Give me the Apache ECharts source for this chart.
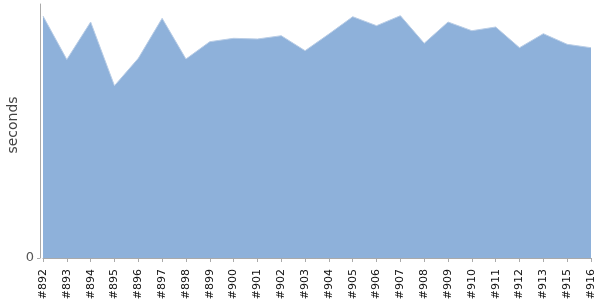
<!DOCTYPE html>
<html>
<head>
<meta charset="utf-8">
<script src="https://cdn.jsdelivr.net/npm/echarts@6/dist/echarts.min.js"></script>
<style>html,body{margin:0;padding:0;background:#fff}#c{width:600px;height:300px}</style>
</head>
<body>
<div id="c"></div>
<script>
const categories = ['#892','#893','#894','#895','#896','#897','#898','#899','#900','#901','#902','#903','#904','#905','#906','#907','#908','#909','#910','#911','#912','#913','#915','#916'];
const seconds = [242, 198.5, 236, 172.3, 199.7, 239.7, 199, 216.3, 219.7, 219, 222.3, 207.3, 224, 241.3, 232.3, 242.3, 214.7, 236, 227.3, 231, 210.3, 224.3, 213.7, 210.3];
const yTickLabels = [0];

const chart = echarts.init(document.getElementById('c'), null, {renderer: 'canvas'});
chart.setOption({
  animation: false,
  textStyle: {fontFamily: 'DejaVu Sans'},
  grid: {left: 43, right: 9, top: 4, bottom: 42, containLabel: false, outerBoundsMode: 'none'},
  xAxis: {
    type: 'category',
    data: categories,
    boundaryGap: false,
    offset: 2,
    axisLine: {lineStyle: {color: '#aaaaaa', width: 1}},
    axisTick: {show: true, length: 4, alignWithLabel: true, lineStyle: {color: '#aaaaaa'}},
    axisLabel: {rotate: 90, fontSize: 11, color: '#111', margin: 9, interval: 0, fontFamily: 'DejaVu Sans'},
    splitLine: {show: false}
  },
  yAxis: {
    type: 'value',
    min: 0,
    max: 254,
    offset: 3,
    name: 'seconds',
    nameLocation: 'middle',
    nameGap: 20,
    nameMoveOverlap: false,
    nameTextStyle: {fontSize: 14, color: '#444', fontFamily: 'DejaVu Sans', padding: [0, 0, 0, 12]},
    axisLine: {show: true, lineStyle: {color: '#aaaaaa', width: 1}},
    axisTick: {show: true, length: 3, customValues: yTickLabels, lineStyle: {color: '#aaaaaa'}},
    axisLabel: {fontSize: 13, color: '#555', margin: 6, customValues: yTickLabels, fontFamily: 'DejaVu Sans'},
    splitLine: {show: false}
  },
  series: [{
    type: 'line',
    data: seconds,
    symbol: 'none',
    lineStyle: {color: '#b9cde6', width: 1},
    areaStyle: {color: '#8eb1da', opacity: 1}
  }]
});
</script>
</body>
</html>
